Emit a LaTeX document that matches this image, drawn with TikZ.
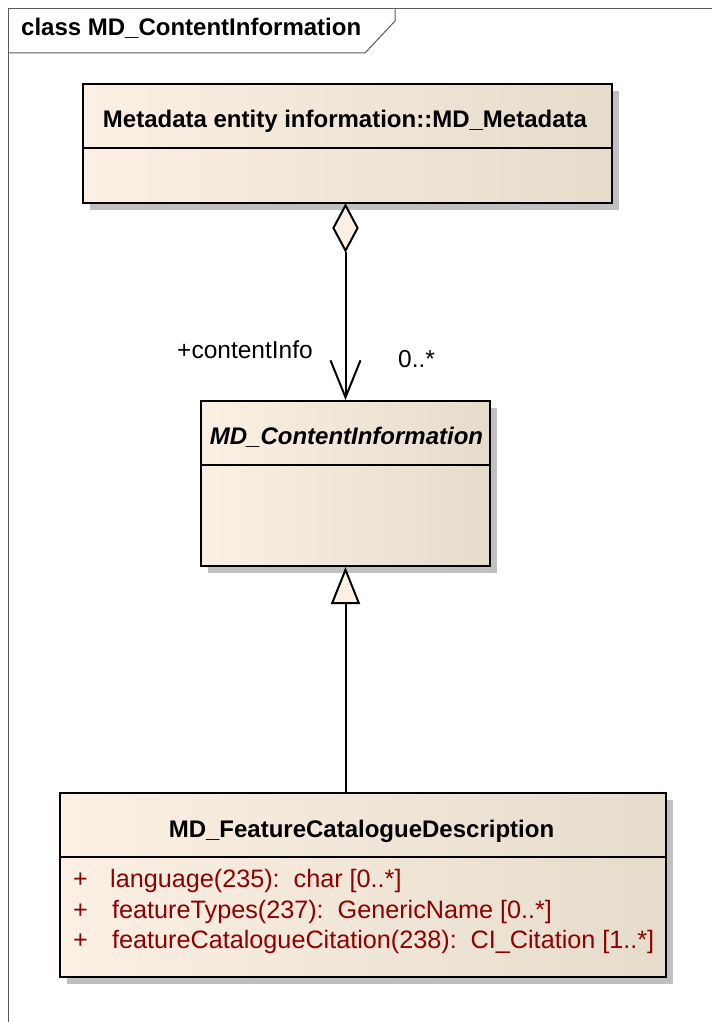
\documentclass[tikz,border=0pt]{standalone}
\usepackage{fontspec}
\setmainfont{Liberation Sans}
\usetikzlibrary{positioning}
\usetikzlibrary{shapes.geometric}
\usetikzlibrary{arrows.meta}
\usetikzlibrary{shadows}
\definecolor{boxleft}{RGB}{251,240,227}
\definecolor{boxright}{RGB}{230,220,204}
\definecolor{shadegray}{RGB}{192,192,192}
\definecolor{attrred}{RGB}{145,0,0}
\definecolor{framegray}{RGB}{90,90,90}

\begin{document}
\begin{tikzpicture}[x = 1pt, y = -1pt,
        classbox/.style = {shape = rectangle, draw = black, line width = 2pt, left color = boxleft, right color = boxright, drop shadow = {shadow xshift = 7pt, shadow yshift = -7pt, fill = shadegray, opacity = 1}, inner sep = 0pt},
        divider/.style = {draw = black, line width = 2pt},
        aggdiamond/.style = {shape = diamond, draw = black, fill = boxleft, line width = 2pt, minimum width = 25pt, minimum height = 46pt, inner sep = 0pt},
        assoc/.style = {draw = black, line width = 2pt, -{Straight Barb[length = 37pt, width = 30pt]}},
        gen/.style = {draw = black, line width = 2pt, -{Triangle[open, length = 37pt, width = 29pt, fill = boxleft]}},
        frameline/.style = {draw = framegray, line width = 1pt},
        boldtext/.style = {inner sep = 0pt, font = \fontsize{24}{28}\selectfont\bfseries},
        plaintext/.style = {inner sep = 0pt, font = \fontsize{24.5}{28}\selectfont},
        attrtext/.style = {inner sep = 0pt, font = \fontsize{25.2}{28}\selectfont, text = attrred},
    ]
    \useasboundingbox (0,0) rectangle (712,1022);

    % frame and tab
    \draw[frameline] (8,1022) -- (8,9) -- (712,9);
    \draw[frameline] (8,53) -- (365,53) -- (395,21) -- (395,9);
    \node[boldtext, anchor = base west] (frametitle) at (21,36) {class MD\_ContentInformation};

    % classes
    \node[classbox, minimum width = 529pt, minimum height = 119pt] (meta) at (347.5,143.5) {};
    \node[classbox, minimum width = 289pt, minimum height = 165pt] (content) at (345.5,483.5) {};
    \node[classbox, minimum width = 606pt, minimum height = 184pt] (feat) at (363,885) {};

    \draw[divider] (meta.west |- 0,148) -- (meta.east |- 0,148);
    \draw[divider] (content.west |- 0,465) -- (content.east |- 0,465);
    \draw[divider] (feat.west |- 0,857) -- (feat.east |- 0,857);

    \node[boldtext, anchor = base] (metatitle) at (345,128) {Metadata entity information::MD\_Metadata};
    \node[boldtext, anchor = base] (contenttitle) at (346.5,444) {\itshape MD\_ContentInformation};
    \node[boldtext, anchor = base] (feattitle) at (361.5,837) {MD\_FeatureCatalogueDescription};

    \node[attrtext, anchor = base west] (plusa) at (73,887) {+};
    \node[attrtext, anchor = base west] (attra) at (110,887) {language(235):\ \ char [0..*]};
    \node[attrtext, anchor = base west] (plusb) at (73,918) {+};
    \node[attrtext, anchor = base west] (attrb) at (112,918) {featureTypes(237):\ \ GenericName [0..*]};
    \node[attrtext, anchor = base west] (plusc) at (73,948) {+};
    \node[attrtext, anchor = base west] (attrc) at (112,948) {featureCatalogueCitation(238):\ \ CI\_Citation [1..*]};

    % aggregation
    \node[aggdiamond, anchor = north] (agg) at (content.north |- meta.south) {};
    \draw[assoc] (agg.south) -- (content.north);
    \node[plaintext, anchor = base west] (role) at (177,358) {+contentInfo};
    \node[plaintext, anchor = base west] (mult) at (398,367) {0..*};

    % generalization
    \draw[gen] (feat.north -| content.south) -- (content.south);
\end{tikzpicture}
\end{document}
